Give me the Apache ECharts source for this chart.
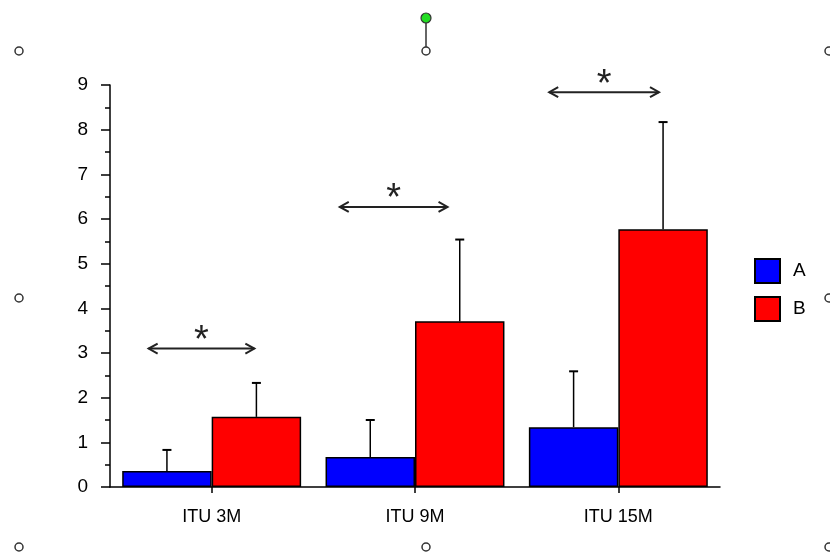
<!DOCTYPE html>
<html>
<head>
<meta charset="utf-8">
<script src="https://cdn.jsdelivr.net/npm/echarts@6/dist/echarts.min.js"></script>
<style>html,body{margin:0;padding:0;background:#fff;}#c{width:830px;height:560px;}</style>
</head>
<body>
<div id="c"></div>
<script>
// ---- data ----
var categories = ['ITU 3M', 'ITU 9M', 'ITU 15M'];
var seriesNames = ['A', 'B'];
var valuesA = [0.36, 0.67, 1.34];
var valuesB = [1.57, 3.71, 5.77];
var errTopA = [0.83, 1.50, 2.59];
var errTopB = [2.33, 5.54, 8.17];
var yTicks = [0, 1, 2, 3, 4, 5, 6, 7, 8, 9];
// significance arrows: start / end along category positions (0..3), height
var arrowStart = [0.19, 1.13, 2.16];
var arrowEnd = [0.71, 1.66, 2.70];
var arrowY = [3.10, 6.27, 8.84];
var arrowLabel = ['*', '*', '*'];

var FONT = "'Liberation Sans', Arial, sans-serif";
var CAT_GAP = 0.12;

var chart = echarts.init(document.getElementById('c'), null, {renderer: 'canvas'});

function errData(vals, tops) {
  return vals.map(function (v, i) { return [i, v, tops[i]]; });
}
function errRender(side) {
  return function (params, api) {
    var idx = api.value(0);
    var base = api.coord([idx, api.value(1)]);
    var top = api.coord([idx, api.value(2)]);
    var band = api.size([1, 0])[0];
    var bw = band * (1 - CAT_GAP) / 2;
    var x = base[0] + side * bw / 2;
    var cap = 4.5;
    return {
      type: 'group',
      children: [
        {type: 'line', shape: {x1: x, y1: base[1], x2: x, y2: top[1]}, style: {stroke: '#000', lineWidth: 1.5}},
        {type: 'line', shape: {x1: x - cap, y1: top[1], x2: x + cap, y2: top[1]}, style: {stroke: '#000', lineWidth: 2}}
      ]
    };
  };
}

var arrowData = arrowStart.map(function (s, i) { return [s, arrowEnd[i], arrowY[i], arrowLabel[i]]; });

function arrowRender(params, api) {
  var p0 = api.coord([api.value(0), api.value(2)]);
  var p1 = api.coord([api.value(1), api.value(2)]);
  var y = p0[1];
  var hl = 9, hw = 5;
  var st = {stroke: '#222', lineWidth: 2, fill: null};
  return {
    type: 'group',
    children: [
      {type: 'line', shape: {x1: p0[0], y1: y, x2: p1[0], y2: y}, style: st},
      {type: 'polyline', shape: {points: [[p0[0] + hl, y - hw], [p0[0], y], [p0[0] + hl, y + hw]]}, style: st},
      {type: 'polyline', shape: {points: [[p1[0] - hl, y - hw], [p1[0], y], [p1[0] - hl, y + hw]]}, style: st},
      {type: 'text', x: (p0[0] + p1[0]) / 2, y: y + 12,
        style: {text: arrowLabel[params.dataIndex], fill: '#222', font: '38px ' + FONT, align: 'center', verticalAlign: 'bottom'}}
    ]
  };
}

var handleStyle = {fill: '#fff', stroke: '#333', lineWidth: 1.5};
function handle(x, y) {
  return {type: 'circle', shape: {cx: x, cy: y, r: 4}, style: handleStyle, z: 100};
}

var option = {
  backgroundColor: '#fff',
  animation: false,
  grid: {left: 110, right: 110, top: 85, bottom: 73, containLabel: false},
  legend: {
    data: seriesNames,
    orient: 'vertical',
    left: 749,
    top: 253,
    itemWidth: 25,
    itemHeight: 24,
    itemGap: 12,
    icon: 'rect',
    textStyle: {fontFamily: FONT, fontSize: 19, color: '#000', padding: [0, 0, 0, 8]},
    selectedMode: false
  },
  xAxis: [{
    type: 'category',
    data: categories,
    axisLine: {lineStyle: {color: '#000', width: 1.5}},
    axisTick: {show: true, alignWithLabel: true, length: 6, lineStyle: {color: '#000', width: 1.5}},
    axisLabel: {fontFamily: FONT, fontSize: 18, color: '#000', margin: 21},
    splitLine: {show: false}
  }, {
    type: 'value', min: 0, max: 3, show: false
  }],
  yAxis: {
    type: 'value',
    min: yTicks[0],
    max: yTicks[yTicks.length - 1],
    interval: 1,
    axisLine: {show: true, lineStyle: {color: '#000', width: 1.5}},
    axisTick: {show: true, length: 9, lineStyle: {color: '#000', width: 1.5}},
    minorTick: {show: true, splitNumber: 2, length: 5, lineStyle: {color: '#000', width: 1.5}},
    axisLabel: {fontFamily: FONT, fontSize: 19, color: '#000', margin: 22},
    splitLine: {show: false}
  },
  series: [
    {
      name: seriesNames[0], type: 'bar', data: valuesA,
      barGap: '0%', barCategoryGap: (CAT_GAP * 100) + '%',
      itemStyle: {color: '#0000ff', borderColor: '#000', borderWidth: 1.5}
    },
    {
      name: seriesNames[1], type: 'bar', data: valuesB,
      barGap: '0%', barCategoryGap: (CAT_GAP * 100) + '%',
      itemStyle: {color: '#ff0000', borderColor: '#000', borderWidth: 1.5}
    },
    {type: 'custom', renderItem: errRender(-1), data: errData(valuesA, errTopA), z: 1, silent: true},
    {type: 'custom', renderItem: errRender(1), data: errData(valuesB, errTopB), z: 1, silent: true},
    {type: 'custom', xAxisIndex: 1, yAxisIndex: 0, renderItem: arrowRender, data: arrowData, z: 5, silent: true}
  ],
  graphic: [
    {type: 'line', shape: {x1: 426, y1: 18, x2: 426, y2: 47}, style: {stroke: '#333', lineWidth: 1.5}, z: 99},
    {type: 'circle', shape: {cx: 426, cy: 18, r: 5}, style: {fill: '#22dd22', stroke: '#333', lineWidth: 1.2}, z: 100},
    handle(19, 51), handle(426, 51), handle(829, 51),
    handle(19, 298), handle(829, 298),
    handle(19, 547), handle(426, 547), handle(829, 547)
  ]
};
chart.setOption(option);
</script>
</body>
</html>
